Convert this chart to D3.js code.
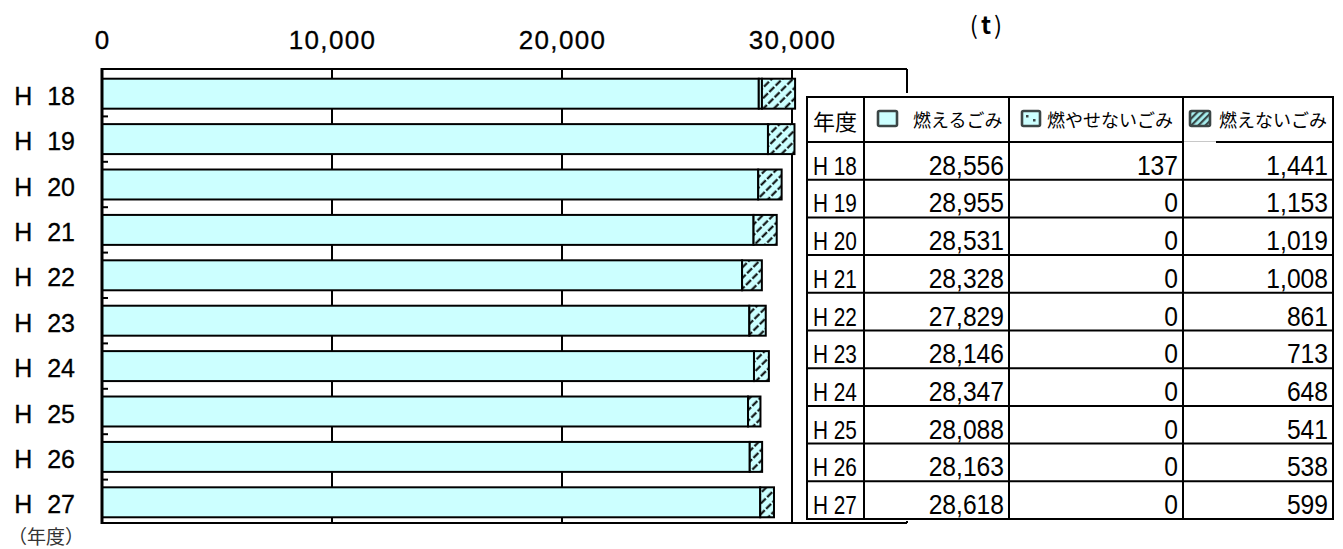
<!DOCTYPE html>
<html lang="ja">
<head>
<meta charset="utf-8">
<script src="https://cdn.jsdelivr.net/npm/d3@7"></script>
<style>
  html, body { margin: 0; padding: 0; background: #fff; }
  svg { display: block; }
</style>
</head>
<body>
<svg id="chart" width="1343" height="549"></svg>
<script>
// Waste collected per fiscal year (tonnes)
const years = ["H 18", "H 19", "H 20", "H 21", "H 22", "H 23", "H 24", "H 25", "H 26", "H 27"];
const burnable = [28556, 28955, 28531, 28328, 27829, 28146, 28347, 28088, 28163, 28618];   // 燃えるごみ
const nonIncinerable = [137, 0, 0, 0, 0, 0, 0, 0, 0, 0];                                   // 燃やせないごみ
const nonBurnable = [1441, 1153, 1019, 1008, 861, 713, 648, 541, 538, 599];                // 燃えないごみ
const seriesKeys = ["burnable", "nonIncinerable", "nonBurnable"];
const seriesNames = ["燃えるごみ", "燃やせないごみ", "燃えないごみ"];
const xTicks = [0, 10000, 20000, 30000];
const xMax = 35000;
const unitLabel = "t";
const yearAxisTitle = "（年度）";
const tableYearHead = "年度";

const rows = years.map((y, i) => ({
  year: y,
  burnable: burnable[i],
  nonIncinerable: nonIncinerable[i],
  nonBurnable: nonBurnable[i]
}));

const svg = d3.select("#chart");
const plot = { left: 102, right: 907, top: 69, bottom: 523 };
const CYAN = "#ccffff";

const x = d3.scaleLinear().domain([0, xMax]).range([plot.left, plot.right]);
const y = d3.scaleBand().domain(years).range([plot.top + 2, plot.bottom + 2])
  .paddingInner(0.34).paddingOuter(0.17);

// ---- fill patterns ----
const defs = svg.append("defs");
const dots = defs.append("pattern").attr("id", "dots")
  .attr("patternUnits", "userSpaceOnUse").attr("width", 6).attr("height", 6);
dots.append("rect").attr("width", 6).attr("height", 6).attr("fill", CYAN);
dots.append("rect").attr("x", 1).attr("y", 1).attr("width", 1.6).attr("height", 1.6).attr("fill", "#000");

const hatch = defs.append("pattern").attr("id", "hatch")
  .attr("patternUnits", "userSpaceOnUse").attr("width", 7.5).attr("height", 9)
  .attr("patternTransform", "rotate(45)");
hatch.append("rect").attr("width", 7.5).attr("height", 9).attr("fill", CYAN);
hatch.append("line").attr("x1", 1.5).attr("y1", 0).attr("x2", 1.5).attr("y2", 9)
  .attr("stroke", "#000").attr("stroke-width", 2).attr("stroke-dasharray", "7 2");

const swHatch = defs.append("pattern").attr("id", "swHatch")
  .attr("patternUnits", "userSpaceOnUse").attr("width", 5).attr("height", 5)
  .attr("patternTransform", "rotate(45)");
swHatch.append("rect").attr("width", 5).attr("height", 5).attr("fill", "#a8f0f0");
swHatch.append("rect").attr("width", 2.2).attr("height", 5).attr("fill", "#3a4a4a");

const fills = { burnable: CYAN, nonIncinerable: "url(#dots)", nonBurnable: "url(#hatch)" };

// ---- vertical gridlines (behind the bars) ----
svg.append("g").selectAll("line").data(xTicks.filter(d => d > 0)).join("line")
  .attr("x1", d => x(d)).attr("x2", d => x(d))
  .attr("y1", plot.top).attr("y2", plot.bottom)
  .attr("stroke", "#000").attr("stroke-width", 2);

// ---- stacked bars ----
const stacked = d3.stack().keys(seriesKeys)(rows);
svg.append("g").selectAll("g").data(stacked).join("g")
  .attr("fill", d => fills[d.key])
  .selectAll("rect").data(d => d.filter(s => s[1] - s[0] > 0)).join("rect")
  .attr("x", d => x(d[0]))
  .attr("width", d => x(d[1]) - x(d[0]))
  .attr("y", d => y(d.data.year))
  .attr("height", y.bandwidth())
  .attr("stroke", "#000").attr("stroke-width", 2);

// ---- plot frame ----
const frame = svg.append("g").attr("stroke", "#000").attr("fill", "none");
frame.append("line").attr("x1", plot.left).attr("x2", plot.right).attr("y1", plot.top).attr("y2", plot.top).attr("stroke-width", 2);
frame.append("line").attr("x1", plot.left).attr("x2", plot.right).attr("y1", plot.bottom).attr("y2", plot.bottom).attr("stroke-width", 2);
frame.append("line").attr("x1", plot.right).attr("x2", plot.right).attr("y1", plot.top).attr("y2", plot.bottom).attr("stroke-width", 2);
frame.append("line").attr("x1", plot.left).attr("x2", plot.left).attr("y1", plot.top - 1).attr("y2", plot.bottom + 1).attr("stroke-width", 3);

// small ticks on the category axis between bands
const boundaries = d3.range(1, years.length).map(i => y.range()[0] + i * y.step());
frame.selectAll("line.cat").data(boundaries).join("line").attr("class", "cat")
  .attr("x1", plot.left).attr("x2", plot.left + 6)
  .attr("y1", d => d).attr("y2", d => d).attr("stroke-width", 2);

// ---- value axis labels (top) ----
const xAxis = d3.axisTop(x).tickValues(xTicks).tickFormat(d3.format(",")).tickSize(0).tickPadding(0);
const gx = svg.append("g").attr("transform", "translate(0,49)").call(xAxis);
gx.select(".domain").remove();
gx.selectAll("text")
  .attr("font-family", "'Liberation Sans', Arial, sans-serif")
  .attr("font-size", 26).attr("fill", "#000")
  .attr("letter-spacing", 1.3).attr("dy", 0)
  .attr("stroke", "#000").attr("stroke-width", 0.3);

// ---- category axis labels ----
const yAxis = d3.axisLeft(y).tickSize(0).tickPadding(0);
const gy = svg.append("g").attr("transform", "translate(75,0)").call(yAxis);
gy.select(".domain").remove();
gy.selectAll("text")
  .attr("font-family", "'Liberation Sans', Arial, sans-serif")
  .attr("font-size", 25).attr("fill", "#000")
  .attr("stroke", "#000").attr("stroke-width", 0.3)
  .attr("dy", 11).style("word-spacing", "8px");

// ---- titles ----
const unit = svg.append("text").attr("x", 986).attr("y", 34).attr("text-anchor", "middle")
  .attr("font-family", "'Noto Sans CJK JP', sans-serif").attr("font-size", 24).attr("fill", "#000");
unit.append("tspan").text("(");
unit.append("tspan").attr("font-weight", "bold").attr("dx", 3).text(unitLabel);
unit.append("tspan").attr("dx", 3).text(")");

svg.append("text").attr("x", 8).attr("y", 544)
  .attr("font-family", "'Noto Sans CJK JP', sans-serif").attr("font-size", 19).attr("fill", "#333")
  .text(yearAxisTitle);

// ---- data table with legend keys ----
const tbl = { left: 807, right: 1333, top: 97, head: 142, bottom: 519 };
const colEdges = [tbl.left, 864, 1009, 1183, tbl.right];
const rowY = d3.scaleBand().domain(years).range([tbl.head, tbl.bottom]);

svg.append("rect").attr("x", tbl.left - 4).attr("y", tbl.top - 4)
  .attr("width", tbl.right - tbl.left + 8).attr("height", tbl.bottom - tbl.top + 6)
  .attr("fill", "#fff");

const tg = svg.append("g");
// grid lines
tg.selectAll("line.h").data([tbl.head, ...years.slice(1).map(d => rowY(d))]).join("line")
  .attr("x1", tbl.left).attr("x2", tbl.right).attr("y1", d => d).attr("y2", d => d)
  .attr("stroke", "#000").attr("stroke-width", 2);
tg.selectAll("line.v").data(colEdges.slice(1, -1)).join("line")
  .attr("x1", d => d).attr("x2", d => d).attr("y1", tbl.top).attr("y2", tbl.bottom)
  .attr("stroke", "#000").attr("stroke-width", 2);
// light segment on the header rule of the last column
tg.append("line").attr("x1", colEdges[3] + 1).attr("x2", 1216).attr("y1", tbl.head).attr("y2", tbl.head)
  .attr("stroke", "#fff").attr("stroke-width", 2.5);
tg.append("line").attr("x1", colEdges[3] + 1).attr("x2", 1216).attr("y1", tbl.head - 0.5).attr("y2", tbl.head - 0.5)
  .attr("stroke", "#c8c8c8").attr("stroke-width", 1);
tg.append("rect").attr("x", tbl.left).attr("y", tbl.top)
  .attr("width", tbl.right - tbl.left).attr("height", tbl.bottom - tbl.top)
  .attr("fill", "none").attr("stroke", "#000").attr("stroke-width", 2);

// header
const jp = "'Noto Sans CJK JP', sans-serif";
tg.append("text").attr("x", 813).attr("y", 130).attr("font-family", jp).attr("font-size", 22).text(tableYearHead);

const swatches = [
  { x: 878, w: 19, fill: CYAN, text: 913 },
  { x: 1022, w: 18, fill: CYAN, text: 1047 },
  { x: 1190, w: 20, fill: "url(#swHatch)", text: 1219 }
];
swatches.forEach((s, i) => {
  tg.append("rect").attr("x", s.x).attr("y", 111).attr("width", s.w).attr("height", 15)
    .attr("rx", 1.5).attr("fill", s.fill).attr("stroke", "#3c4646").attr("stroke-width", 2.6);
  if (i === 1) {
    tg.append("rect").attr("x", s.x + 4).attr("y", 115).attr("width", 2.5).attr("height", 2.5).attr("fill", "#3c4646");
    tg.append("rect").attr("x", s.x + 11).attr("y", 119).attr("width", 2.5).attr("height", 2.5).attr("fill", "#3c4646");
  }
  tg.append("text").attr("x", s.text).attr("y", 127).attr("font-family", jp)
    .attr("font-size", 18).attr("fill", "#000").text(seriesNames[i]);
});

// body (narrow figures)
const fmt = d3.format(",");
const narrow = "'Liberation Sans', Arial, sans-serif";
const body = tg.selectAll("g.row").data(rows).join("g").attr("class", "row");
body.append("text")
  .attr("transform", d => `translate(813,${rowY(d.year) + rowY.bandwidth() - 5}) scale(0.8,1)`)
  .attr("font-family", narrow).attr("font-size", 26).text(d => d.year);
seriesKeys.forEach((k, i) => {
  body.append("text")
    .attr("transform", d => `translate(${colEdges[i + 2] - 5},${rowY(d.year) + rowY.bandwidth() - 5}) scale(0.88,1)`)
    .attr("text-anchor", "end")
    .attr("font-family", narrow).attr("font-size", 28).text(d => fmt(d[k]));
});
</script>
</body>
</html>
